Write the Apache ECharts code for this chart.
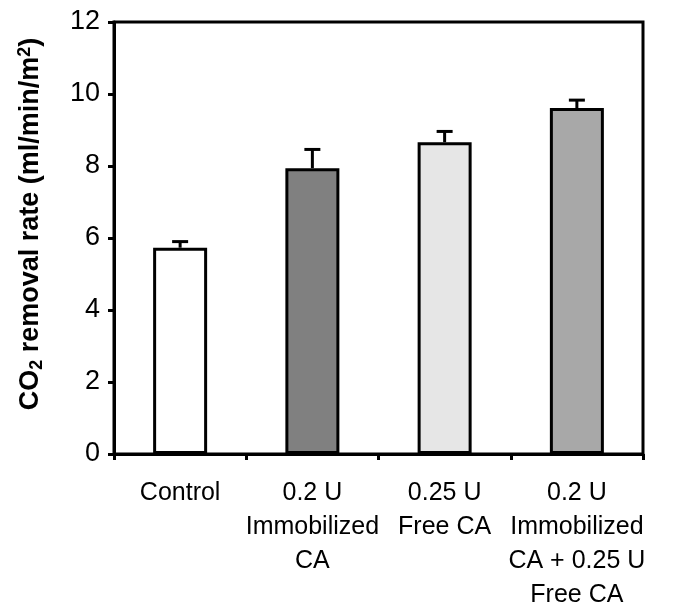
<!DOCTYPE html>
<html>
<head>
<meta charset="utf-8">
<script src="https://cdn.jsdelivr.net/npm/echarts@6/dist/echarts.min.js"></script>
<style>html,body{margin:0;padding:0;background:#fff;}#c{width:678px;height:616px;}</style>
</head>
<body>
<div id="c"></div>
<script>
var categories = ['Control', '0.2 U\nImmobilized\nCA', '0.25 U\nFree CA', '0.2 U\nImmobilized\nCA + 0.25 U\nFree CA'];
var values = [5.73, 7.94, 8.66, 9.61];
var errors = [0.17, 0.52, 0.30, 0.22];
var barColors = ['#ffffff', '#808080', '#e6e6e6', '#a8a8a8'];
var yTicks = [0, 2, 4, 6, 8, 10, 12];

var FONT = '"Liberation Sans", Arial, sans-serif';
var chart = echarts.init(document.getElementById('c'), null, {renderer: 'canvas'});

var barData = values.map(function (v, i) {
  return {value: v, itemStyle: {color: barColors[i]}};
});
var errData = values.map(function (v, i) { return [i, v, v + errors[i]]; });

chart.setOption({
  animation: false,
  backgroundColor: '#ffffff',
  grid: {left: 114, right: 35, top: 22, bottom: 162, show: true, borderColor: '#000', borderWidth: 3, backgroundColor: 'transparent'},
  xAxis: {
    type: 'category',
    data: categories,
    boundaryGap: true,
    axisLine: {lineStyle: {color: '#000', width: 3}},
    axisTick: {show: true, length: 6, lineStyle: {color: '#000', width: 3}},
    axisLabel: {color: '#000', fontFamily: FONT, fontSize: 25, lineHeight: 34, margin: 22, interval: 0}
  },
  yAxis: {
    type: 'value',
    min: yTicks[0],
    max: yTicks[yTicks.length - 1],
    interval: 2,
    splitLine: {show: false},
    axisLine: {show: true, lineStyle: {color: '#000', width: 3}},
    axisTick: {show: true, length: 6, lineStyle: {color: '#000', width: 3}},
    axisLabel: {color: '#000', fontFamily: FONT, fontSize: 27, margin: 14},
    name: '{b|CO}{sub|2}{b| removal rate (ml/min/m}{sup|2}{b|)}',
    nameLocation: 'middle',
    nameGap: 68,
    nameRotate: 90,
    nameTextStyle: {
      color: '#000',
      padding: [0, 0, 0, 28],
      rich: {
        b: {fontFamily: FONT, fontSize: 27, fontWeight: 'bold', color: '#000'},
        sub: {fontFamily: FONT, fontSize: 18, fontWeight: 'bold', color: '#000', padding: [12, 0, 0, 0]},
        sup: {fontFamily: FONT, fontSize: 18, fontWeight: 'bold', color: '#000', padding: [0, 0, 12, 0]}
      }
    }
  },
  series: [
    {
      type: 'bar',
      data: barData,
      barWidth: 54,
      itemStyle: {borderColor: '#000', borderWidth: 3}
    },
    {
      type: 'custom',
      data: errData,
      z: 1,
      renderItem: function (params, api) {
        var x = api.value(0);
        var lo = api.coord([x, api.value(1)]);
        var hi = api.coord([x, api.value(2)]);
        return {
          type: 'group',
          children: [
            {type: 'line', shape: {x1: lo[0], y1: lo[1], x2: hi[0], y2: hi[1]}, style: {stroke: '#000', lineWidth: 3}},
            {type: 'line', shape: {x1: hi[0] - 8, y1: hi[1], x2: hi[0] + 8, y2: hi[1]}, style: {stroke: '#000', lineWidth: 3}}
          ]
        };
      }
    }
  ]
});
</script>
</body>
</html>
